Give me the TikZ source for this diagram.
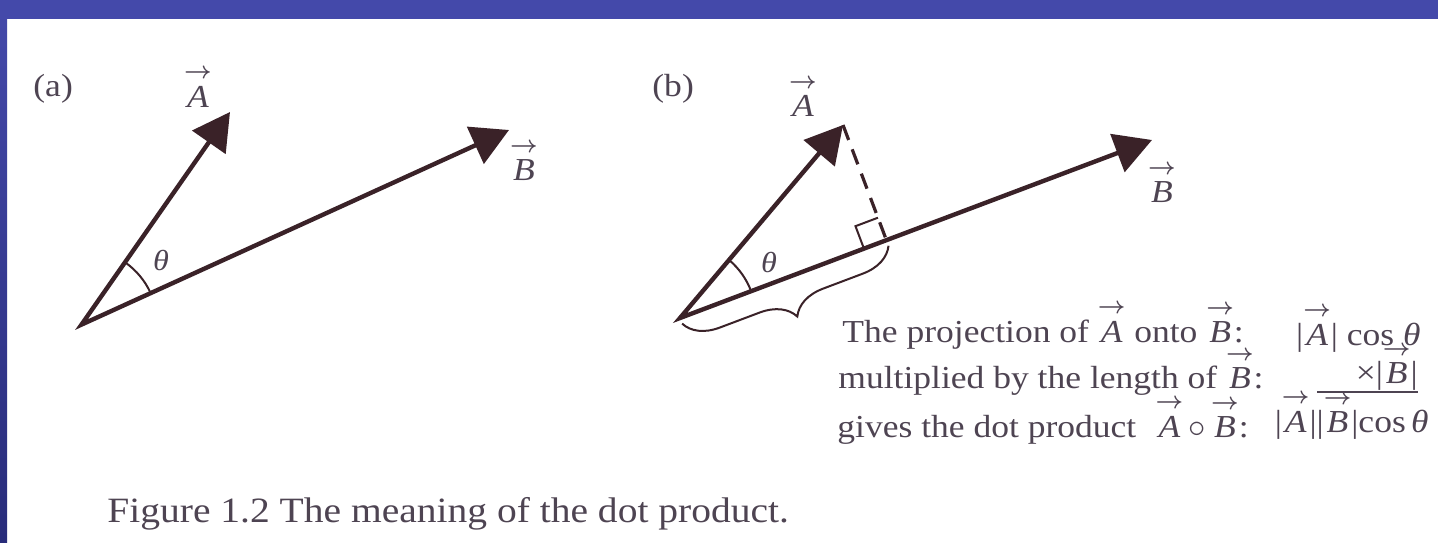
\documentclass[tikz,border=0pt]{standalone}
\usepackage{amsmath}
\usepackage{fontspec}
\setmainfont[FakeStretch=1.11]{Liberation Serif}
\usetikzlibrary{arrows.meta,calc,decorations.pathreplacing}
\definecolor{vecc}{RGB}{58,34,40}
\definecolor{txtc}{RGB}{78,68,82}
\definecolor{bandc}{RGB}{68,73,170}
\definecolor{banddark}{RGB}{40,44,122}
\newcommand{\vecarrow}{\hbox{\fontsize{12}{12}\selectfont\boldmath$\rightarrow$}}
\newcommand{\vecl}[1]{\ensuremath{\overset{\vecarrow}{\textit{#1}}}}
\begin{document}
\begin{tikzpicture}[x=0.5pt,y=0.5pt,
  vecline/.style={draw=vecc, line width=2.2pt, line join=miter,
    {Triangle[length=18.5pt,width=20pt]}-{Triangle[length=18.5pt,width=20pt]}},
  thinline/.style={draw=vecc, line width=1pt},
  dashline/.style={draw=vecc, line width=1.6pt, dash pattern=on 8pt off 5pt},
  lbl/.style={text=txtc, inner sep=0pt, font=\fontsize{16}{18}\selectfont},
  thl/.style={text=txtc, inner sep=0pt, font=\fontsize{14.5}{16}\selectfont},
  body/.style={text=txtc, inner sep=0pt, font=\fontsize{16}{18}\selectfont},
  captext/.style={text=txtc, inner sep=0pt, font=\fontsize{17.8}{20}\selectfont}]
\useasboundingbox (0,0) rectangle (1438,542);
\fill[white] (0,0) rectangle (1438,542);
\shade[top color=bandc, bottom color=banddark] (0,0) rectangle (7,542);
\fill[bandc] (0,523) rectangle (1438,542);

% ---------- panel (a)
\coordinate (O1) at (81.5,217.4);
\coordinate (A1) at (230,430);
\coordinate (B1) at (509,412);
\draw[vecline] (A1) -- (O1) -- (B1);
\draw[thinline] let \p1=($(B1)-(O1)$), \p2=($(A1)-(O1)$),
  \n1={atan2(\y1,\x1)}, \n2={atan2(\y2,\x2)} in
  ($(O1)+(\n1:38pt)$) arc[start angle=\n1, end angle=\n2, radius=38pt];
\node[lbl, anchor=base west] (pa) at (33,445) {(a)};
\node[lbl, anchor=base] (lA1) at (198,435) {\vecl{A}};
\node[lbl, anchor=base] (lB1) at (524,362) {\vecl{B}};
\node[thl] (th1) at (161,281) {\textit{θ}};

% ---------- panel (b)
\coordinate (O2) at (680,224);
\coordinate (A2) at (843,417);
\coordinate (B2) at (1152,402);
\coordinate (F) at ($(O2)!(A2)!(B2)$);
\coordinate (F1) at ($(F)!12pt!(O2)$);
\coordinate (F2) at ($(F)!12pt!(A2)$);
\draw[dashline] (A2) -- (F);
\draw[thinline] (F1) -- ($(F1)+(F2)-(F)$) -- (F2);
\draw[vecline] (A2) -- (O2) -- (B2);
\draw[thinline] let \p1=($(B2)-(O2)$), \p2=($(A2)-(O2)$),
  \n1={atan2(\y1,\x1)}, \n2={atan2(\y2,\x2)} in
  ($(O2)+(\n1:38pt)$) arc[start angle=\n1, end angle=\n2, radius=38pt];
\draw[thinline, decorate, decoration={brace, mirror, amplitude=17pt, raise=3pt}] (O2) -- (F);
\node[lbl, anchor=base west] (pb) at (652,445) {(b)};
\node[lbl, anchor=base] (lA2) at (803,425) {\vecl{A}};
\node[lbl, anchor=base] (lB2) at (1162,340) {\vecl{B}};
\node[thl] (th2) at (769,279) {\textit{θ}};

% ---------- text block
\node[body, anchor=base west] (t1) at (842,200) {The projection of \vecl{A} onto \vecl{B}:};
\node[body, anchor=base west] (t2) at (838,154) {multiplied by the length of \vecl{B}:};
\node[body, anchor=base west] (t3) at (837,105) {gives the dot product};
\node[body, anchor=base east] (t3b) at (1249,105) {\vecl{A}\,$\circ$\,\vecl{B}:};
\node[body, anchor=base east] (r1) at (1421,197) {|\vecl{A}| cos \textit{θ}};
\node[body, anchor=base east] (r2) at (1418,159) {×|\vecl{B}|};
\draw[draw=txtc, line width=0.8pt] (1317,150) -- (1418,150);
\node[body, anchor=base east] (r3) at (1429,110) {|\vecl{A}||\vecl{B}|cos\,\textit{θ}};

% ---------- caption
\node[captext, anchor=base west] (capnode) at (107,20) {Figure 1.2 The meaning of the dot product.};
\end{tikzpicture}
\end{document}
